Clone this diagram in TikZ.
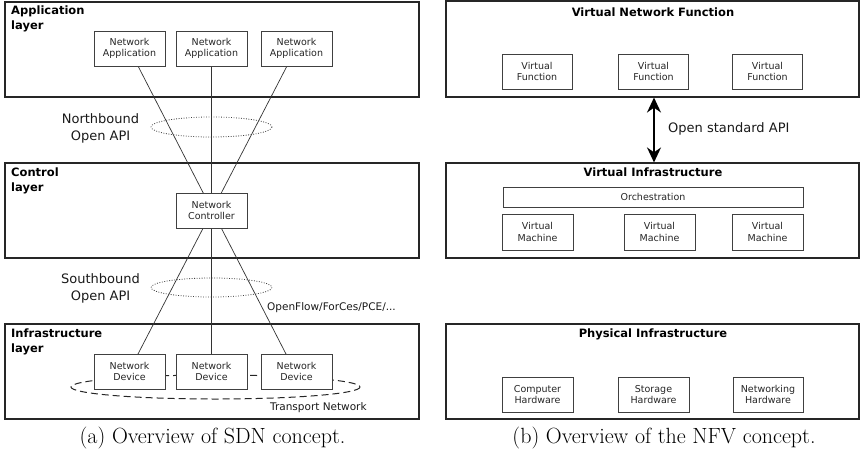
\documentclass[tikz,border=0pt]{standalone}
\usepackage{fontspec}
\newfontfamily\dejavu{DejaVu Sans}
\usetikzlibrary{arrows.meta,calc}

\begin{document}
\begin{tikzpicture}[x=1pt,y=-1pt,
  layer/.style={draw=black!85, line width=1.1pt, minimum width=414pt, minimum height=95pt, inner sep=0pt},
  unit/.style={draw=black!75, line width=0.8pt, fill=white, minimum width=71pt, minimum height=35pt,
    inner sep=0pt, align=center, text=black!85, font=\dejavu\fontsize{9.5}{11.5}\selectfont},
  layertitle/.style={font=\dejavu\bfseries\fontsize{11.5}{15}\selectfont, align=left, inner sep=0pt, anchor=north west},
  paneltitle/.style={font=\dejavu\bfseries\fontsize{11.5}{14}\selectfont, inner sep=0pt},
  tag/.style={font=\dejavu\fontsize{10.5}{12}\selectfont, inner sep=0pt, text=black!90},
  apilabel/.style={font=\dejavu\fontsize{13}{16.5}\selectfont, align=center, inner sep=0pt, text=black!90},
  link/.style={draw=black!80, line width=0.7pt},
  caption/.style={font=\fontsize{22}{26}\selectfont, inner sep=0pt, anchor=base}
]
\useasboundingbox (0,0) rectangle (860,463);

% ---------------- SDN: layers ----------------
\node[layer] (applayer)   at (212,49.5)  {};
\node[layer] (ctrllayer)  at (212,210.5) {};
\node[layer] (infralayer) at (212,371.5) {};

\node[layertitle] (apptitle)   at (11,6)   {Application\\layer};
\node[layertitle] (ctrltitle)  at (11,168) {Control\\layer};
\node[layertitle] (infratitle) at (11,329) {Infrastructure\\layer};

% positions of the SDN units (drawn later, over the links)
\coordinate (pa1) at (129.5,48.5);
\coordinate (pa2) at (211.5,48.5);
\coordinate (pa3) at (296.5,48.5);
\coordinate (pc)  at (211.5,210.5);
\coordinate (pd1) at (129.5,371.5);
\coordinate (pd2) at (211.5,371.5);
\coordinate (pd3) at (296.5,371.5);

% links between applications, controller and devices
\draw[link] ($(pa1)+(8.5,17.5)$) -- ($(pd3)+(-10.5,-17.5)$);
\draw[link] ($(pa3)+(-9.5,17.5)$) -- ($(pd1)+(8.5,-17.5)$);
\draw[link] ($(pa2)+(0,17.5)$) -- ($(pd2)+(0,-17.5)$);

% API rings
\coordinate (nbring) at (211.5,127);
\coordinate (sbring) at (211.5,287.5);
\draw[black!75, line width=0.8pt, dash pattern=on 0.9pt off 1.6pt] (nbring) ellipse [x radius=60.5, y radius=10];
\draw[black!75, line width=0.8pt, dash pattern=on 0.9pt off 1.6pt] (sbring) ellipse [x radius=60.5, y radius=9.5];

% transport network ring
\coordinate (tnring) at (215.5,387);
\draw[black!85, line width=1pt, dash pattern=on 7pt off 4pt] (tnring) ellipse [x radius=144.5, y radius=12];

% SDN units
\node[unit] (a1) at (pa1) {Network\\Application};
\node[unit] (a2) at (pa2) {Network\\Application};
\node[unit] (a3) at (pa3) {Network\\Application};
\node[unit] (ctrl) at (pc) {Network\\Controller};
\node[unit] (d1) at (pd1) {Network\\Device};
\node[unit] (d2) at (pd2) {Network\\Device};
\node[unit] (d3) at (pd3) {Network\\Device};

% SDN labels
\node[apilabel] (nblabel) at (100.5,128.5) {Northbound\\Open API};
\node[apilabel] (sblabel) at (100.5,288.5) {Southbound\\Open API};
\node[tag, anchor=west] (oflabel) at (267,307.5) {OpenFlow/ForCes/PCE/...};
\node[tag, anchor=west] (tnlabel) at (270,407.5) {Transport Network};

% ---------------- NFV ----------------
\node[layer, minimum width=413pt, minimum height=96pt] (vnf) at (652.5,49) {};
\node[layer, minimum width=413pt] (vi) at (652.5,210.5) {};
\node[layer, minimum width=413pt] (pi) at (652.5,371.5) {};

\node[paneltitle] (vnftitle) at (653,12.5) {Virtual Network Function};
\node[paneltitle] (vititle)  at (653,172.5) {Virtual Infrastructure};
\node[paneltitle] (pititle)  at (653,334.5) {Physical Infrastructure};

\node[unit, minimum width=70pt] (vf1) at (537,71.5)   {Virtual\\Function};
\node[unit, minimum width=70pt] (vf2) at (653.5,71.5) {Virtual\\Function};
\node[unit, minimum width=70pt] (vf3) at (767.5,71.5) {Virtual\\Function};

\node[unit, minimum width=300pt, minimum height=20pt] (orch) at (653,197) {Orchestration};
\node[unit, minimum height=36pt] (vm1) at (537.5,232) {Virtual\\Machine};
\node[unit, minimum height=36pt] (vm2) at (659.5,232) {Virtual\\Machine};
\node[unit, minimum height=36pt] (vm3) at (767.5,232) {Virtual\\Machine};

\node[unit] (hw1) at (537.5,394.5) {Computer\\Hardware};
\node[unit] (hw2) at (653.5,394.5) {Storage\\Hardware};
\node[unit, minimum width=70pt] (hw3) at (768,394.5) {Networking\\Hardware};

% open API between functions and infrastructure
\draw[{Stealth[length=15pt,width=14pt]}-{Stealth[length=15pt,width=14pt]}, line width=1.6pt]
  ($(vnf.south)+(1.5,0)$) -- ($(vi.north)+(1.5,0)$);
\node[apilabel, anchor=west] (oalabel) at (668,129) {Open standard API};

% ---------------- captions ----------------
\node[caption] (capa) at (212.5,443) {(a) Overview of SDN concept.};
\node[caption] (capb) at (664,443) {(b) Overview of the NFV concept.};
\end{tikzpicture}
\end{document}
